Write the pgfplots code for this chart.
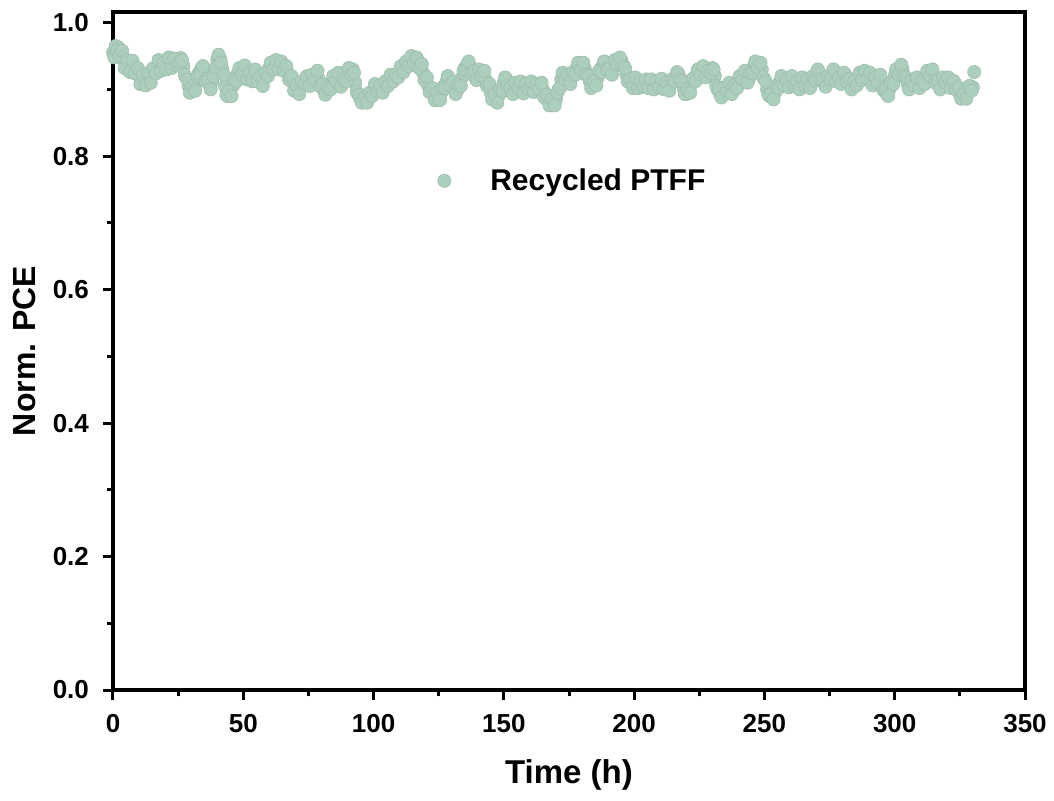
\documentclass[border=0pt]{standalone}
\usepackage{pgfplots}
\pgfplotsset{compat=1.18}
\usepackage{pgfplotstable}
\usepackage{fontspec}
\setmainfont{Liberation Sans}
\definecolor{ptff}{RGB}{172,206,188}
% h: time (h); v: Norm. PCE at h; b: Norm. PCE at h+0.5
\pgfplotstableread{
h v b
0 0.955 0.948
1 0.965 0.958
2 0.963 0.950
3 0.955 0.958
4 0.945 0.932
5 0.935 0.944
6 0.932 0.926
7 0.937 0.943
8 0.935 0.924
9 0.928 0.932
10 0.920 0.908
11 0.913 0.922
12 0.912 0.906
13 0.918 0.925
14 0.915 0.910
15 0.922 0.932
16 0.930 0.924
17 0.935 0.944
18 0.938 0.928
19 0.930 0.940
20 0.935 0.930
21 0.940 0.948
22 0.944 0.932
23 0.938 0.946
24 0.940 0.936
25 0.946 0.940
26 0.947 0.944
27 0.935 0.922
28 0.918 0.915
29 0.905 0.895
30 0.898 0.905
31 0.900 0.898
32 0.910 0.920
33 0.925 0.922
34 0.932 0.935
35 0.925 0.913
36 0.915 0.915
37 0.907 0.900
38 0.912 0.920
39 0.930 0.933
40 0.945 0.952
41 0.947 0.940
42 0.930 0.922
43 0.905 0.892
44 0.890 0.898
45 0.892 0.890
46 0.905 0.915
47 0.918 0.912
48 0.925 0.932
49 0.930 0.922
50 0.932 0.936
51 0.925 0.915
52 0.918 0.925
53 0.920 0.912
54 0.926 0.930
55 0.922 0.912
56 0.915 0.920
57 0.912 0.905
58 0.918 0.925
59 0.925 0.920
60 0.932 0.940
61 0.936 0.930
62 0.939 0.944
63 0.938 0.930
64 0.935 0.942
65 0.937 0.928
66 0.930 0.935
67 0.925 0.915
68 0.918 0.920
69 0.910 0.898
70 0.900 0.906
71 0.898 0.893
72 0.905 0.912
73 0.912 0.908
74 0.917 0.920
75 0.910 0.905
76 0.915 0.922
77 0.920 0.914
78 0.924 0.928
79 0.915 0.905
80 0.905 0.907
81 0.898 0.892
82 0.897 0.903
83 0.905 0.900
84 0.912 0.920
85 0.918 0.912
86 0.920 0.925
87 0.912 0.904
88 0.908 0.915
89 0.915 0.912
90 0.925 0.932
91 0.930 0.922
92 0.930 0.925
93 0.910 0.897
94 0.893 0.892
95 0.885 0.880
96 0.883 0.888
97 0.884 0.880
98 0.888 0.895
99 0.895 0.890
100 0.900 0.908
101 0.905 0.897
102 0.902 0.906
103 0.898 0.895
104 0.905 0.912
105 0.910 0.905
106 0.915 0.922
107 0.920 0.912
108 0.915 0.922
109 0.922 0.918
110 0.928 0.935
111 0.932 0.926
112 0.935 0.942
113 0.940 0.935
114 0.945 0.950
115 0.947 0.940
116 0.946 0.948
117 0.943 0.932
118 0.935 0.938
119 0.925 0.914
120 0.915 0.918
121 0.905 0.896
122 0.898 0.902
123 0.892 0.884
124 0.888 0.895
125 0.889 0.884
126 0.895 0.902
127 0.905 0.902
128 0.912 0.920
129 0.915 0.905
130 0.908 0.912
131 0.900 0.893
132 0.898 0.907
133 0.905 0.905
134 0.918 0.928
135 0.932 0.930
136 0.938 0.942
137 0.935 0.925
138 0.925 0.928
139 0.918 0.914
140 0.922 0.930
141 0.927 0.920
142 0.925 0.928
143 0.915 0.905
144 0.905 0.908
145 0.895 0.885
146 0.887 0.893
147 0.885 0.880
148 0.890 0.900
149 0.900 0.898
150 0.910 0.918
151 0.915 0.905
152 0.905 0.902
153 0.895 0.893
154 0.900 0.910
155 0.910 0.902
156 0.908 0.912
157 0.902 0.894
158 0.900 0.908
159 0.905 0.900
160 0.908 0.912
161 0.903 0.896
162 0.900 0.908
163 0.906 0.900
164 0.908 0.910
165 0.900 0.888
166 0.890 0.892
167 0.882 0.876
168 0.879 0.885
169 0.878 0.876
170 0.885 0.895
171 0.900 0.902
172 0.915 0.925
173 0.924 0.915
174 0.920 0.922
175 0.912 0.908
176 0.918 0.926
177 0.925 0.922
178 0.932 0.940
179 0.937 0.930
180 0.938 0.940
181 0.932 0.922
182 0.922 0.920
183 0.912 0.902
184 0.905 0.912
185 0.908 0.906
186 0.918 0.928
187 0.930 0.926
188 0.936 0.942
189 0.938 0.930
190 0.930 0.932
191 0.925 0.922
192 0.935 0.944
193 0.942 0.937
194 0.945 0.948
195 0.944 0.935
196 0.935 0.932
197 0.922 0.912
198 0.912 0.915
199 0.908 0.902
200 0.912 0.918
201 0.910 0.902
202 0.905 0.912
203 0.910 0.904
204 0.912 0.915
205 0.906 0.902
206 0.910 0.915
207 0.908 0.900
208 0.903 0.912
209 0.908 0.903
210 0.912 0.916
211 0.909 0.900
212 0.905 0.910
213 0.903 0.898
214 0.908 0.915
215 0.915 0.912
216 0.920 0.926
217 0.923 0.915
218 0.915 0.912
219 0.902 0.893
220 0.893 0.900
221 0.898 0.895
222 0.908 0.916
223 0.915 0.912
224 0.922 0.930
225 0.928 0.922
226 0.930 0.935
227 0.925 0.918
228 0.920 0.928
229 0.928 0.925
230 0.932 0.930
231 0.920 0.905
232 0.900 0.902
233 0.893 0.888
234 0.895 0.903
235 0.902 0.897
236 0.905 0.910
237 0.900 0.893
238 0.898 0.906
239 0.905 0.902
240 0.912 0.920
241 0.920 0.915
242 0.924 0.928
243 0.918 0.910
244 0.915 0.925
245 0.925 0.924
246 0.935 0.942
247 0.939 0.932
248 0.938 0.940
249 0.930 0.918
250 0.915 0.912
251 0.900 0.892
252 0.890 0.893
253 0.888 0.885
254 0.895 0.905
255 0.905 0.902
256 0.912 0.920
257 0.915 0.906
258 0.910 0.915
259 0.908 0.903
260 0.912 0.920
261 0.915 0.905
262 0.908 0.912
263 0.905 0.900
264 0.910 0.918
265 0.915 0.906
266 0.912 0.915
267 0.906 0.902
268 0.910 0.920
269 0.918 0.914
270 0.924 0.930
271 0.924 0.915
272 0.915 0.915
273 0.908 0.904
274 0.912 0.920
275 0.920 0.915
276 0.924 0.930
277 0.922 0.912
278 0.915 0.918
279 0.912 0.908
280 0.918 0.925
281 0.922 0.912
282 0.915 0.916
283 0.908 0.900
284 0.905 0.912
285 0.910 0.906
286 0.918 0.925
287 0.922 0.914
288 0.920 0.928
289 0.923 0.916
290 0.923 0.925
291 0.915 0.906
292 0.910 0.918
293 0.915 0.910
294 0.920 0.922
295 0.910 0.900
296 0.898 0.900
297 0.893 0.890
298 0.900 0.910
299 0.912 0.908
300 0.920 0.930
301 0.928 0.922
302 0.932 0.937
303 0.930 0.920
304 0.918 0.918
305 0.908 0.900
306 0.905 0.913
307 0.910 0.906
308 0.915 0.918
309 0.910 0.902
310 0.905 0.913
311 0.910 0.908
312 0.920 0.928
313 0.926 0.920
314 0.927 0.930
315 0.920 0.910
316 0.912 0.914
317 0.905 0.900
318 0.910 0.918
319 0.917 0.910
320 0.915 0.918
321 0.910 0.902
322 0.905 0.913
323 0.910 0.900
324 0.902 0.903
325 0.893 0.886
326 0.888 0.893
327 0.890 0.886
328 0.897 0.905
329 0.905 0.898
330 0.903 0.926
}\ptffdata
\begin{document}
\begin{tikzpicture}
\begin{axis}[
  at={(0pt,0pt)}, anchor=south west,
  scale only axis,
  width=456pt, height=339pt,
  xmin=0, xmax=350, ymin=0, ymax=1.016,
  xtick={0,50,...,350},
  ytick={0,0.2,...,1.0},
  minor x tick num=1,
  minor y tick num=1,
  xtick pos=left, ytick pos=left,
  tick align=outside,
  major tick length=5pt,
  minor tick length=3pt,
  every tick/.style={black, line width=1.5pt},
  axis line style={line width=2pt},
  /pgf/number format/assume math mode=true,
  scaled y ticks=false,
  tick label style={font=\fontsize{13}{15}\selectfont\bfseries},
  xticklabel style={yshift=-3.5pt},
  yticklabel style={xshift=-3.5pt, /pgf/number format/fixed,
    /pgf/number format/fixed zerofill, /pgf/number format/precision=1},
  xlabel={Time (h)},
  ylabel={Norm. PCE},
  xlabel style={font=\fontsize{16.5}{19}\selectfont\bfseries,
    at={(axis description cs:0.5,-0.125)}, anchor=center},
  ylabel style={font=\fontsize{16}{19}\selectfont\bfseries,
    at={(axis description cs:-0.097,0.5)}, anchor=center},
  legend style={at={(axis description cs:0.505,0.751)}, anchor=center, draw=none, fill=none,
    font=\fontsize{15}{18}\selectfont\bfseries},
  legend image code/.code={%
    \path[draw=none] (0pt,0pt) (21pt,0pt);
    \path[#1, draw=none] plot[only marks] coordinates {(0pt,0pt)};},
]
\addplot[only marks, mark=*, mark size=3.3pt,
  mark options={fill=ptff, draw=ptff!92!black, line width=0.3pt}]
  table[x=h, y=v] {\ptffdata};
\addlegendentry{Recycled PTFF}
\addplot[only marks, mark=*, mark size=3.3pt, forget plot,
  mark options={fill=ptff, draw=ptff!92!black, line width=0.3pt}]
  table[x expr=\thisrow{h}+0.5, y=b] {\ptffdata};
\end{axis}
\pgfresetboundingbox
\path (-56.5pt,-55pt) rectangle (470.5pt,345pt);
\end{tikzpicture}
\end{document}
